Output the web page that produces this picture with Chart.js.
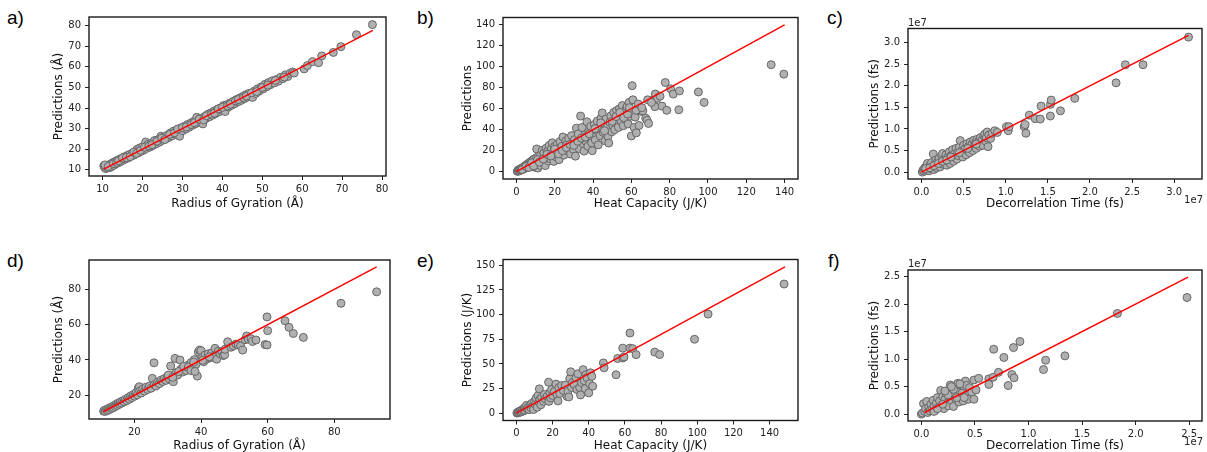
<!DOCTYPE html>
<html>
<head>
<meta charset="utf-8">
<script src="https://cdn.jsdelivr.net/npm/chart.js@4.4.0/dist/chart.umd.min.js"></script>
<style>
html, body { margin: 0; padding: 0; background: #fff; overflow: hidden; width: 1207px; height: 452px; }
canvas { position: absolute; }
.tag { position: absolute; font: 19px "Liberation Sans", Arial, sans-serif; line-height: 1; color: #000; }
</style>
</head>
<body>
<div class="tag" style="left:7px;top:8px">a)</div>
<div class="tag" style="left:417px;top:8px">b)</div>
<div class="tag" style="left:827px;top:8px">c)</div>
<div class="tag" style="left:7px;top:251px">d)</div>
<div class="tag" style="left:417px;top:251px">e)</div>
<div class="tag" style="left:828px;top:251px">f)</div>
<canvas id="pa"></canvas>
<canvas id="pb"></canvas>
<canvas id="pc"></canvas>
<canvas id="pd"></canvas>
<canvas id="pe"></canvas>
<canvas id="pf"></canvas>
<script>
// ---- data: [actual, predicted] ----
// a) radius of gyration, training set (Å)
var rgTrain = [
  [10.3,11.9],[10.5,11.2],[10.8,10.6],[11.0,11.8],[11.2,10.9],[11.5,12.3],[11.8,11.1],[12.0,12.8],[12.2,11.5],[12.5,13.4],
  [12.8,12.2],[13.0,13.9],[13.3,12.9],[13.6,14.5],[13.9,13.4],[14.2,15.1],[14.5,14.0],[14.8,15.6],[15.1,14.6],[15.4,16.2],
  [15.8,15.3],[16.1,16.9],[16.5,15.9],[16.8,17.5],[17.2,16.6],[17.5,18.1],[17.9,17.2],[18.2,18.7],[18.6,19.9],[18.9,18.2],
  [19.3,20.6],[19.7,19.0],[20.0,21.2],[20.3,19.6],[20.8,23.5],[21.0,20.4],[21.4,22.4],[21.8,21.0],[22.2,23.0],[22.6,21.8],
  [23.0,24.2],[23.4,22.6],[23.8,24.6],[24.2,23.4],[24.6,26.3],[25.0,24.3],[25.4,25.9],[25.8,25.0],[26.2,26.8],[26.6,25.7],
  [27.0,27.9],[27.4,26.5],[27.8,28.8],[28.2,27.4],[28.6,29.3],[29.0,28.3],[29.3,26.3],[29.7,30.4],[30.1,29.0],[30.5,31.1],
  [30.9,29.9],[31.3,32.0],[31.7,30.7],[32.1,32.7],[32.5,31.6],[32.9,33.6],[33.3,32.4],[33.6,35.5],[34.0,33.2],[34.4,34.9],
  [34.8,33.9],[35.1,32.3],[35.5,35.8],[35.9,34.9],[36.3,36.9],[36.7,35.7],[37.1,37.6],[37.5,36.5],[37.9,38.5],[38.3,37.3],
  [38.7,39.3],[39.1,38.1],[39.5,40.0],[39.9,39.0],[40.3,41.2],[40.7,38.3],[41.1,41.6],[41.5,40.5],[41.9,42.4],[42.3,41.3],
  [42.7,43.2],[43.1,42.1],[43.5,44.1],[43.9,43.0],[44.3,44.8],[44.7,43.7],[45.1,45.6],[45.5,44.6],[45.9,46.5],[46.3,45.3],
  [46.7,47.1],[47.1,46.0],[47.6,45.2],[48.0,48.2],[48.4,47.1],[48.8,49.3],[49.2,48.2],[49.7,50.2],[50.2,49.3],[50.7,51.5],
  [51.1,50.3],[51.6,52.4],[52.0,51.3],[52.5,53.2],[53.0,52.2],[53.5,53.8],[54.0,53.0],[54.6,54.9],[55.2,54.3],[55.8,56.1],
  [56.4,55.3],[57.0,56.9],[57.6,57.5],[58.0,57.0],[60.5,59.0],[61.3,60.6],[62.6,62.5],[64.1,62.0],[64.9,65.3],[67.8,67.0],
  [69.7,69.8],[73.6,75.6],[77.6,80.5],
  [10.6,12.4],[11.4,11.6],[12.7,13.0],[13.5,13.6],[14.0,14.4],[15.0,15.7],[16.0,16.0],[16.9,16.4],[17.8,18.6],[18.5,18.0],
  [19.5,19.4],[20.5,21.0],[21.6,21.6],[22.4,22.2],[23.6,23.9],[24.8,25.4],[25.6,24.7],[26.8,27.2],[28.0,28.0],[28.8,29.8],
  [30.0,30.5],[31.0,30.8],[32.2,32.0],[33.0,32.9],[34.2,34.6],[35.3,34.2],[36.0,36.2],[37.3,37.0],[38.0,37.5],[39.0,39.6],
  [40.0,40.3],[41.3,41.0],[42.0,41.8],[43.3,43.5],[44.0,44.1],[45.3,45.1],[46.0,45.8],[47.3,47.4],[48.6,48.0],[50.0,50.0],
  [51.4,51.1],[53.3,53.4],[55.5,55.0]
];
// b) heat capacity, training set (J/K)
var hcTrain = [
  [0.5,0.3],[0.8,1.2],[1.0,0.6],[1.3,1.8],[1.6,0.9],[1.9,2.4],[2.2,1.4],[2.5,3.1],[2.8,1.8],[3.1,3.6],
  [3.4,2.3],[3.7,4.4],[4.0,2.9],[4.3,5.1],[4.6,3.3],[4.9,6.0],[5.2,3.9],[5.5,6.8],[5.8,4.5],[6.1,7.6],
  [6.4,5.1],[6.7,8.3],[7.0,5.6],[7.3,9.2],[7.6,6.0],[7.9,10.1],[8.2,6.5],[8.5,11.0],[8.8,7.2],[9.1,12.0],
  [9.4,7.8],[9.7,4.2],[10.0,9.0],[10.4,13.2],[10.6,21.6],[10.8,8.2],[11.2,3.4],[11.5,14.6],[11.9,10.0],[12.3,6.0],
  [12.7,16.0],[13.1,11.5],[13.5,20.4],[13.9,8.5],[14.3,17.8],[14.7,13.0],[15.1,5.8],[15.5,22.3],[15.9,14.7],[16.3,19.5],
  [16.7,10.2],[17.1,25.0],[17.5,16.5],[17.9,12.0],[18.3,21.8],[18.7,27.5],[19.1,17.8],[19.5,9.8],[19.9,24.0],[20.3,19.6],
  [20.8,14.0],[21.3,26.2],[21.8,22.0],[22.3,11.5],[22.8,28.8],[23.3,18.2],[23.8,24.2],[24.3,33.0],[24.8,15.8],[25.3,21.2],
  [25.8,29.3],[26.3,26.0],[26.8,19.8],[27.3,31.8],[27.8,23.2],[28.3,16.8],[28.8,34.4],[29.3,27.8],[29.8,21.3],[30.3,30.5],
  [30.8,14.8],[31.3,41.5],[31.8,25.5],[32.3,36.0],[32.8,22.0],[33.5,53.0],[33.8,30.8],[34.3,42.0],[34.8,26.8],[35.3,19.6],
  [35.8,35.2],[36.3,29.0],[36.8,47.5],[37.3,24.2],[37.8,38.8],[38.3,31.8],[38.8,43.2],[39.3,27.5],[39.6,20.0],[40.2,35.5],
  [40.7,45.0],[41.2,30.2],[41.7,39.5],[42.2,48.2],[42.7,25.5],[43.2,41.3],[43.7,34.2],[44.2,51.0],[44.8,56.0],[45.3,37.5],
  [45.8,44.6],[46.3,29.5],[46.8,50.2],[47.3,42.5],[47.8,33.6],[48.2,27.3],[48.8,47.0],[49.3,53.2],[49.8,38.0],[50.3,44.2],
  [50.8,56.5],[51.3,40.0],[51.8,49.0],[52.3,58.2],[52.8,45.5],[53.3,42.2],[53.8,60.0],[54.3,51.5],[54.8,47.8],[55.3,63.0],
  [55.8,43.8],[56.3,55.8],[56.8,50.0],[57.3,59.8],[57.8,62.0],[58.3,45.5],[58.8,66.0],[59.3,52.8],[60.0,34.0],[60.4,82.0],
  [60.8,68.5],[61.0,55.0],[61.5,42.0],[62.0,52.0],[62.6,37.0],[63.2,60.0],[64.0,44.0],[65.0,57.5],[66.0,58.0],[67.5,51.0],
  [68.2,49.0],[69.0,46.0],[70.0,68.0],[71.5,65.5],[72.3,62.0],[72.5,74.0],[73.5,70.0],[75.0,72.0],[76.0,62.5],[77.7,85.0],
  [78.5,58.5],[80.5,79.0],[81.9,74.0],[85.1,77.0],[84.8,59.0],[95.0,76.0],[98.0,66.0],[133.0,102.0],[139.6,93.0],
  [41.0,41.0],[44.0,46.5],[46.0,39.0],[50.0,48.0],[52.0,52.5],[54.0,56.5],[56.0,51.5],[58.0,55.0],[59.0,61.0],[62.5,58.5],
  [63.5,64.5],[65.5,61.0],[68.5,68.5],[70.5,66.0],[3.0,2.0],[5.0,5.0],[6.5,4.0],[8.0,8.5],[9.0,5.5],[11.0,11.5],
  [12.0,9.0],[14.0,12.0],[16.0,16.5],[18.0,15.0],[20.0,21.5],[22.0,17.0],[24.0,20.0],[26.0,23.0],[28.0,26.0],[30.0,25.0],
  [32.0,29.0],[34.0,32.0],[36.0,33.0],[38.0,36.0]
];
// c) decorrelation time, training set (units of 1e7 fs)
var dtTrain = [
  [0.01,0.0],[0.02,0.05],[0.03,0.02],[0.04,0.1],[0.05,0.04],[0.06,0.14],[0.07,0.06],[0.07,0.2],[0.08,0.09],[0.09,0.03],
  [0.10,0.16],[0.11,0.08],[0.12,0.22],[0.13,0.12],[0.14,0.42],[0.15,0.06],[0.16,0.18],[0.17,0.28],[0.18,0.1],[0.19,0.24],
  [0.20,0.15],[0.21,0.32],[0.22,0.12],[0.23,0.2],[0.24,0.38],[0.25,0.43],[0.26,0.18],[0.27,0.3],[0.28,0.22],[0.29,0.4],
  [0.30,0.16],[0.31,0.34],[0.32,0.26],[0.33,0.47],[0.34,0.2],[0.35,0.38],[0.36,0.3],[0.37,0.52],[0.38,0.25],[0.39,0.42],
  [0.40,0.34],[0.41,0.55],[0.42,0.3],[0.43,0.46],[0.44,0.38],[0.45,0.58],[0.46,0.73],[0.47,0.42],[0.48,0.5],[0.49,0.35],
  [0.50,0.62],[0.51,0.45],[0.52,0.55],[0.53,0.4],[0.54,0.66],[0.55,0.5],[0.56,0.6],[0.57,0.45],[0.58,0.7],[0.59,0.56],
  [0.60,0.65],[0.61,0.5],[0.62,0.74],[0.63,0.6],[0.64,0.68],[0.65,0.55],[0.66,0.76],[0.67,0.63],[0.68,0.72],[0.69,0.6],
  [0.70,0.8],[0.71,0.67],[0.72,0.74],[0.73,0.62],[0.74,0.84],[0.75,0.88],[0.76,0.72],[0.77,0.8],[0.78,0.93],[0.79,0.59],
  [0.80,0.86],[0.82,0.78],[0.84,0.9],[0.87,0.96],[0.90,0.92],[1.01,1.05],[1.03,0.96],[1.04,1.05],[1.22,1.05],[1.23,1.10],
  [1.24,0.90],[1.28,1.32],[1.35,1.24],[1.41,1.23],[1.42,1.53],[1.53,1.30],[1.53,1.57],[1.54,1.67],[1.65,1.42],[1.82,1.71],
  [2.31,2.07],[2.42,2.49],[2.63,2.49],[3.17,3.13],
  [0.05,0.08],[0.10,0.10],[0.15,0.15],[0.20,0.20],[0.25,0.25],[0.30,0.28],[0.35,0.35],[0.45,0.45],[0.55,0.55],[0.65,0.65]
];
// d) radius of gyration, test set (Å)
var rgTest = [
  [10.8,11.0],[11.0,11.5],[11.3,10.9],[11.6,12.0],[11.9,11.4],[12.2,12.5],[12.5,11.9],[12.8,13.1],[13.1,12.6],[13.4,13.6],
  [13.7,13.0],[14.0,14.3],[14.3,13.7],[14.6,15.0],[14.9,14.3],[15.2,15.6],[15.5,15.0],[15.8,16.2],[16.2,15.6],[16.5,16.9],
  [16.9,16.3],[17.3,17.7],[17.7,17.0],[18.1,18.6],[18.5,17.8],[18.9,19.6],[19.3,18.7],[19.7,20.4],[20.1,19.5],[20.5,21.5],
  [20.9,20.3],[21.2,24.2],[21.5,24.9],[21.6,22.3],[22.0,21.3],[22.5,23.4],[23.0,22.4],[23.5,24.6],[24.0,23.3],[24.5,25.2],
  [25.0,24.0],[25.4,29.6],[25.9,38.4],[26.0,26.0],[26.5,25.3],[27.0,27.4],[27.5,26.6],[28.0,28.6],[28.5,27.8],[29.0,29.5],
  [29.5,28.5],[30.0,30.6],[30.5,29.4],[30.9,36.6],[31.2,31.0],[31.7,27.7],[32.2,40.9],[32.5,32.8],[33.0,31.5],[33.7,40.0],
  [34.0,34.8],[34.5,33.2],[35.0,35.6],[35.5,34.0],[36.0,37.0],[36.5,35.5],[37.0,38.5],[37.5,36.8],[38.0,40.2],[38.5,37.5],
  [38.9,30.9],[39.2,44.5],[39.6,45.6],[40.0,45.2],[40.4,41.5],[40.8,39.0],[41.2,42.8],[41.7,40.5],[42.2,43.5],[42.7,41.2],
  [43.2,44.0],[43.7,42.0],[44.2,46.6],[44.7,40.4],[45.2,45.0],[45.7,43.5],[46.2,44.8],[46.7,42.5],[47.1,43.0],[47.2,46.0],
  [48.0,50.3],[49.0,47.2],[49.7,48.0],[50.5,49.0],[51.2,48.5],[51.9,47.9],[52.5,45.6],[53.2,51.5],[53.7,53.6],[54.2,51.7],
  [55.0,52.0],[55.5,50.5],[56.5,51.3],[59.2,48.7],[59.8,48.5],[60.0,56.6],[59.8,64.4],[65.2,62.2],[66.4,58.5],[67.7,55.0],
  [70.7,52.8],[82.0,72.1],[92.7,78.6],
  [30.2,31.5],[31.5,30.2],[33.3,33.5],[34.8,36.4],[36.2,36.0],[37.8,38.8],[40.5,39.8],[42.5,41.8],[37.0,34.0],[38.2,33.5]
];
// e) heat capacity, test set (J/K)
var hcTest = [
  [0.3,0.2],[0.6,0.8],[1.0,0.4],[1.3,1.5],[1.7,0.9],[2.0,2.2],[2.4,1.3],[2.8,3.0],[3.2,1.8],[3.6,4.0],
  [4.0,2.5],[4.4,5.2],[4.8,3.2],[5.2,6.5],[5.6,8.0],[6.0,4.2],[6.5,6.0],[7.0,3.6],[7.5,8.0],[8.0,5.5],
  [8.5,10.0],[9.0,7.0],[9.5,3.8],[10.0,12.0],[10.5,9.0],[11.0,15.5],[11.5,6.0],[12.0,18.0],[12.7,24.7],[12.5,11.5],
  [13.0,14.0],[13.5,8.5],[14.0,16.0],[15.0,12.0],[15.5,19.0],[16.0,14.5],[17.0,17.0],[17.8,31.4],[18.0,12.0],[18.5,21.0],
  [19.0,15.5],[19.5,24.0],[20.0,18.0],[21.0,22.0],[21.9,29.5],[22.5,19.0],[23.0,12.5],[23.5,26.0],[24.0,20.0],[25.0,28.0],
  [26.0,23.0],[27.0,28.5],[28.0,17.0],[28.5,22.0],[29.0,16.5],[29.5,35.0],[30.0,42.0],[30.5,26.0],[31.0,31.0],[32.0,29.0],
  [33.0,36.0],[33.5,24.0],[34.0,40.0],[35.0,26.0],[35.5,18.5],[36.0,31.0],[36.9,44.2],[37.5,33.0],[38.0,25.0],[38.5,39.0],
  [39.0,36.0],[40.0,20.6],[40.5,30.0],[41.0,41.0],[41.7,37.4],[42.2,27.4],[48.1,51.0],[48.5,46.0],[55.1,39.0],[56.0,55.5],
  [58.8,56.0],[59.5,57.0],[58.8,66.0],[62.8,66.0],[64.3,65.5],[62.8,81.3],[66.2,59.4],[76.5,62.0],[79.2,59.5],[98.5,75.0],
  [106.0,100.5],[148.0,131.0]
];
// f) decorrelation time, test set (units of 1e7 fs)
var dtTest = [
  [0.00,0.00],[0.01,0.02],[0.02,0.19],[0.03,0.05],[0.04,0.10],[0.05,0.23],[0.06,0.03],[0.07,0.12],[0.08,0.06],[0.09,0.18],
  [0.10,0.09],[0.11,0.25],[0.12,0.14],[0.13,0.07],[0.14,0.20],[0.15,0.30],[0.16,0.12],[0.17,0.24],[0.18,0.43],[0.19,0.16],
  [0.20,0.32],[0.21,0.10],[0.22,0.27],[0.23,0.38],[0.24,0.20],[0.25,0.15],[0.26,0.33],[0.27,0.53],[0.28,0.25],[0.29,0.42],
  [0.30,0.14],[0.31,0.36],[0.32,0.28],[0.33,0.48],[0.34,0.56],[0.35,0.22],[0.36,0.40],[0.37,0.30],[0.38,0.52],[0.39,0.24],
  [0.40,0.44],[0.41,0.60],[0.42,0.52],[0.43,0.35],[0.44,0.27],[0.45,0.48],[0.47,0.40],[0.49,0.62],[0.49,0.27],[0.51,0.44],
  [0.535,0.65],[0.63,0.64],[0.63,0.54],[0.67,0.67],[0.675,1.18],[0.72,0.76],[0.77,1.03],[0.81,0.52],[0.845,0.72],[0.865,0.66],
  [0.86,1.21],[0.92,1.32],[1.14,0.81],[1.16,0.98],[1.34,1.06],[1.83,1.83],[2.48,2.12],
  [0.12,0.05],[0.15,0.10],[0.20,0.18],[0.25,0.35],[0.30,0.45],[0.33,0.30],[0.36,0.55],[0.38,0.38],[0.40,0.30],[0.22,0.42],[0.28,0.50]
];

// y = x reference line ends
var lineA = [10.3, 77.7], lineB = [0, 140], lineC = [0, 3.17];
var lineD = [10.7, 92.7], lineE = [0, 148.5], lineF = [0.03, 2.49];

// tick labels
var ticksA = [10, 20, 30, 40, 50, 60, 70, 80];
var ticksB = [0, 20, 40, 60, 80, 100, 120, 140];
var ticksC = [0, 0.5, 1.0, 1.5, 2.0, 2.5, 3.0];
var ticksD = [20, 40, 60, 80];
var ticksEy = [0, 25, 50, 75, 100, 125, 150];
var ticksF = [0, 0.5, 1.0, 1.5, 2.0, 2.5];

var FONT = "'DejaVu Sans', sans-serif";

// draws the axes box and the 1e7 offset labels
var framePlugin = {
  id: 'frame',
  afterDraw: function (chart, args, o) {
    var a = chart.chartArea, ctx = chart.ctx;
    ctx.save();
    ctx.strokeStyle = '#1a1a1a';
    ctx.lineWidth = 1.4;
    ctx.strokeRect(a.left, a.top, a.right - a.left, a.bottom - a.top);
    if (o.sci) {
      ctx.fillStyle = '#222';
      ctx.font = '10px ' + FONT;
      ctx.textBaseline = 'alphabetic';
      ctx.textAlign = 'left';
      ctx.fillText(o.sci, a.left, a.top - 3);
      ctx.textAlign = 'right';
      ctx.fillText(o.sci, a.right + 1, a.bottom + 24);
    }
    ctx.restore();
  }
};

var panels = [
  {id: 'pa', c: [0, 0, 400, 225], b: [89, 17, 386, 176], pts: rgTrain, line: lineA,
   x: [6.6, 81], y: [7.0, 84.2], xt: ticksA, yt: ticksA,
   xl: 'Radius of Gyration (Å)', yl: 'Predictions (Å)', xp: 13.8, yp: 52},
  {id: 'pb', c: [400, 0, 410, 225], b: [503, 17.5, 798, 179], pts: hcTrain, line: lineB,
   x: [-7, 147], y: [-7, 147], xt: ticksB, yt: ticksB,
   xl: 'Heat Capacity (J/K)', yl: 'Predictions', xp: 13.5, yp: 61},
  {id: 'pc', c: [810, 0, 397, 225], b: [908, 28.5, 1206, 179], pts: dtTrain, line: lineC,
   x: [-0.16, 3.33], y: [-0.16, 3.33], xt: ticksC, yt: ticksC, fix: 1, sci: '1e7',
   xl: 'Decorrelation Time (fs)', yl: 'Predictions (fs)', xp: 13.8, yp: 58},
  {id: 'pd', c: [0, 225, 400, 235], b: [89, 260, 390, 419], pts: rgTest, line: lineD,
   x: [6.4, 96.7], y: [6.6, 96.6], xt: ticksD, yt: ticksD,
   xl: 'Radius of Gyration (Å)', yl: 'Predictions (Å)', xp: 6.8, yp: 52},
  {id: 'pe', c: [400, 225, 410, 235], b: [503, 259.5, 798, 420.5], pts: hcTest, line: lineE,
   x: [-7.4, 155.7], y: [-7.4, 155.9], xt: ticksB, yt: ticksEy,
   xl: 'Heat Capacity (J/K)', yl: 'Predictions (J/K)', xp: 6.8, yp: 61},
  {id: 'pf', c: [810, 225, 397, 235], b: [908, 270, 1206, 421], pts: dtTest, line: lineF,
   x: [-0.125, 2.62], y: [-0.125, 2.62], xt: ticksF, yt: ticksF, fix: 1, sci: '1e7',
   xl: 'Decorrelation Time (fs)', yl: 'Predictions (fs)', xp: 6.8, yp: 58}
];

panels.forEach(function (p) {
  var cv = document.getElementById(p.id);
  cv.width = p.c[2];
  cv.height = p.c[3];
  cv.style.left = p.c[0] + 'px';
  cv.style.top = p.c[1] + 'px';
  var yW = p.b[0] - p.c[0];
  var xH = p.c[1] + p.c[3] - p.b[3];
  var fmt = function (v) { return p.fix ? v.toFixed(1) : String(v); };
  var tickFont = {family: FONT, size: 10};
  var titleFont = {family: FONT, size: 12};
  var grid = {display: true, drawOnChartArea: false, drawTicks: true, tickLength: 4, color: '#222', lineWidth: 1};

  new Chart(cv.getContext('2d'), {
    type: 'scatter',
    data: {
      datasets: [
        {
          data: [{x: p.line[0], y: p.line[0]}, {x: p.line[1], y: p.line[1]}],
          showLine: true, borderColor: '#ff0000', borderWidth: 1.5, pointRadius: 0, order: 0
        },
        {
          data: p.pts.map(function (d) { return {x: d[0], y: d[1]}; }),
          backgroundColor: '#b0b0b0', borderColor: '#666666', borderWidth: 1, pointRadius: 4, order: 1
        }
      ]
    },
    options: {
      responsive: false,
      animation: false,
      events: [],
      layout: {padding: {top: p.b[1] - p.c[1], right: p.c[0] + p.c[2] - p.b[2], left: 0, bottom: 0}},
      plugins: {legend: {display: false}, tooltip: {enabled: false}, frame: {sci: p.sci}},
      scales: {
        x: {
          type: 'linear', min: p.x[0], max: p.x[1],
          afterFit: function (s) { s.height = xH; },
          afterBuildTicks: function (s) { s.ticks = p.xt.map(function (v) { return {value: v}; }); },
          ticks: {autoSkip: false, maxRotation: 0, padding: 3, color: '#222', font: tickFont, callback: fmt},
          grid: grid,
          border: {display: false},
          title: {display: true, text: p.xl, color: '#111', font: titleFont, padding: {top: 0, bottom: p.xp}}
        },
        y: {
          type: 'linear', min: p.y[0], max: p.y[1],
          afterFit: function (s) { s.width = yW; },
          afterBuildTicks: function (s) { s.ticks = p.yt.map(function (v) { return {value: v}; }); },
          ticks: {autoSkip: false, padding: 4, color: '#222', font: tickFont, callback: fmt},
          grid: grid,
          border: {display: false},
          title: {display: true, text: p.yl, color: '#111', font: titleFont, padding: {top: p.yp, bottom: 0}}
        }
      }
    },
    plugins: [framePlugin]
  });
});
</script>
</body>
</html>
